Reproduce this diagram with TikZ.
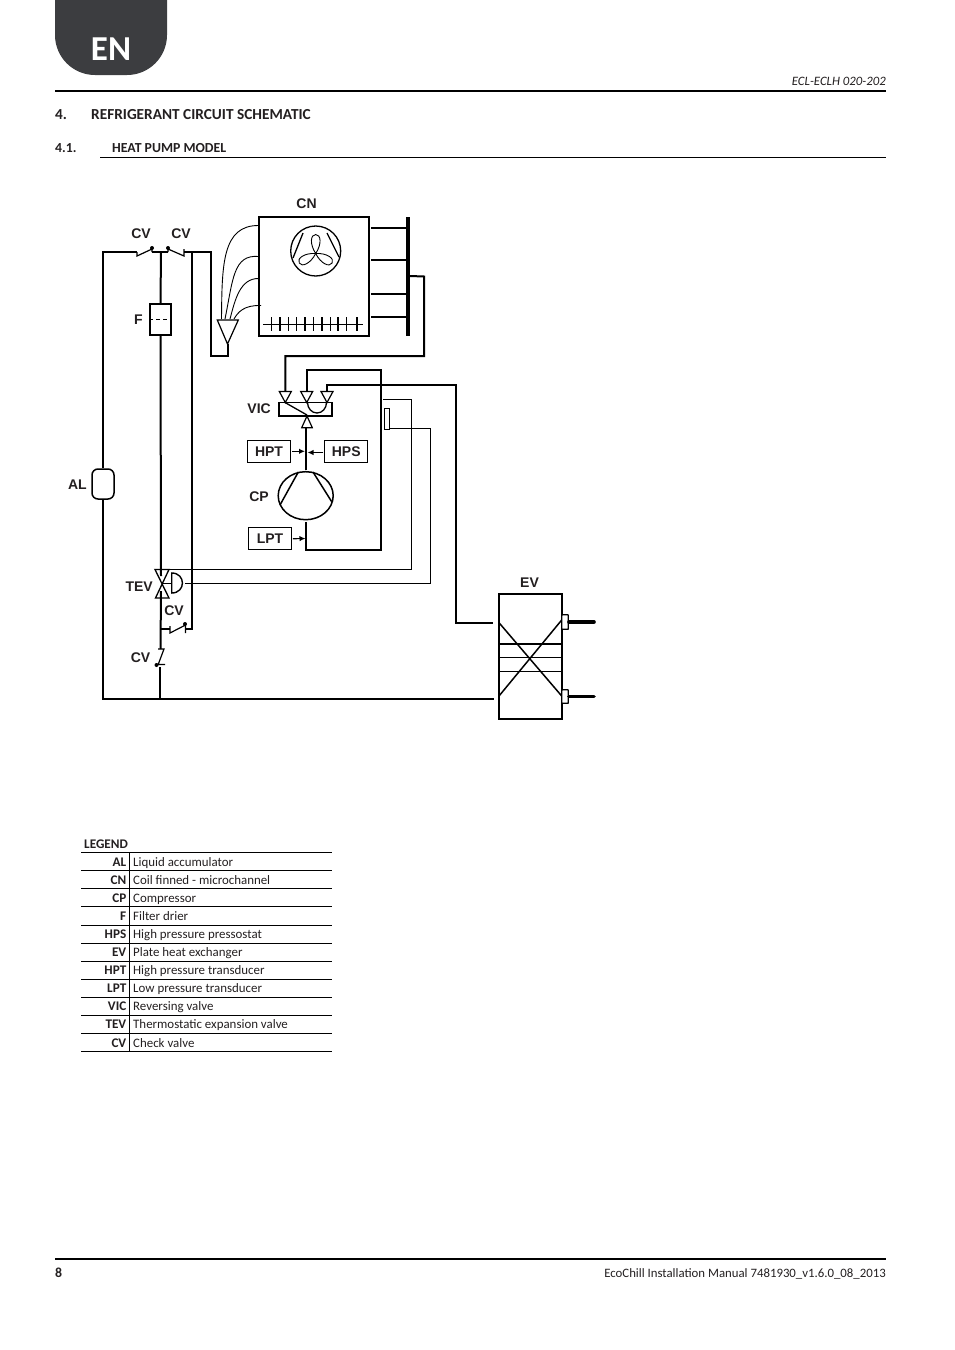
\documentclass[tikz,border=0pt]{standalone}
\usepackage{fontspec}
\setmainfont{Carlito}
\newfontfamily\labelfont{Liberation Sans}
\usetikzlibrary{shapes.geometric,arrows.meta}
\definecolor{tabgrey}{HTML}{3C3D40}
\definecolor{inkgrey}{HTML}{231F20}
\begin{document}
\begin{tikzpicture}[x=1pt,y=-1pt,
    pipe/.style={line width=2pt},
    thinpipe/.style={line width=1pt},
    tag/.style={font=\labelfont\bfseries\fontsize{14}{16}\selectfont,inner sep=0pt,text=inkgrey},
    sensor/.style={draw,line width=0.9pt,minimum width=43pt,minimum height=22pt,inner sep=0pt,font=\labelfont\bfseries\fontsize{14}{16}\selectfont,text=inkgrey},
    headline/.style={anchor=base west,inner sep=0pt,font=\bfseries\fontsize{15.3}{17}\selectfont,text=inkgrey},
    subline/.style={anchor=base west,inner sep=0pt,font=\bfseries\fontsize{13.8}{15}\selectfont,text=inkgrey},
    legendkey/.style={anchor=base east,inner sep=0pt,font=\bfseries\fontsize{13.2}{15}\selectfont,text=inkgrey},
    legendtext/.style={anchor=base west,inner sep=0pt,font=\fontsize{12.9}{15}\selectfont,text=inkgrey},
    rowline/.style={line width=0.7pt},
    senseto/.style={-{Latex[length=6pt,width=5.5pt]},line width=1.2pt}]
  \useasboundingbox (0,0) rectangle (954,1350);
  % page furniture
  \fill[tabgrey] (55,0) -- (55,35) arc[start angle=180,end angle=90,x radius=40,y radius=40] -- (127,75) arc[start angle=90,end angle=0,x radius=40,y radius=40] -- (167,0) -- cycle;
  \node[text=white,font=\bfseries\fontsize{35}{37}\selectfont,inner sep=0pt] (tabtext) at (111,49) {EN};
  \node[anchor=base east,inner sep=0pt,font=\itshape\fontsize{12.8}{14}\selectfont,text=inkgrey] (doccode) at (886,85.5) {ECL-ECLH 020-202};
  \draw[line width=1.5pt] (55,91) -- (886,91);
  \node[headline] (secnum) at (55,119) {4.};
  \node[headline] (sectitle) at (91,119) {REFRIGERANT CIRCUIT SCHEMATIC};
  \node[subline] (subnum) at (55,152) {4.1.};
  \node[subline] (subtitle) at (112,152) {HEAT PUMP MODEL};
  \draw[line width=0.9pt] (100,157.5) -- (886,157.5);
  \draw[line width=1.5pt] (55,1259) -- (886,1259);
  \node[subline] (pagenum) at (55,1277.5) {8};
  \node[anchor=base east,inner sep=0pt,font=\fontsize{12.8}{14}\selectfont,text=inkgrey] (manual) at (886,1277.5) {EcoChill Installation Manual 7481930\_v1.6.0\_08\_2013};
  % coil and fan
  \node[draw,line width=2pt,minimum width=110pt,minimum height=119pt,inner sep=0pt] (coil) at (314,276.5) {};
  \node[tag] (cnlabel) at (306.5,204) {CN};
  \draw[line width=1.3pt] (315.7,251) circle[radius=25];
  \foreach \a in {0,120,240}
    \draw[line width=0.9pt,rotate around={\a:(315.7,253.5)}] (315.7,253.5) .. controls (309.5,244) and (310.5,234.5) .. (315.7,234.5) .. controls (321,234.5) and (322,244) .. (315.7,253.5);
  \draw[line width=1.3pt] (303,233) -- (293,258) (327,233) -- (339,257);
  \draw[line width=0.9pt] (263,324) -- (363,324);
  \foreach \x/\w in {271.7/0.9,280/1.8,288/0.9,296.7/0.9,305/1.8,313/0.9,321.7/1.8,330/0.9,338/1.8,346.7/0.9,356.7/1.8}
    \draw[line width=\w pt] (\x,317) -- (\x,331);
  \coordinate (bartop) at (408,217);
  \coordinate (barend) at (408,336);
  \draw[line width=3.6pt] (bartop) -- (barend);
  \foreach \y in {228,260,294,317}
    \draw[pipe] (371,\y) -- (408,\y);
  % distributor
  \coordinate (distA) at (217.3,320);
  \coordinate (distB) at (238.3,320);
  \coordinate (distC) at (227.5,344);
  \draw[line width=1.2pt] (distA) -- (distB) -- (distC) -- cycle;
  \draw[line width=0.9pt] (221.5,319) .. controls (222,265) and (222,225) .. (259,225.5);
  \draw[line width=0.9pt] (225,319) .. controls (233,280) and (233,254) .. (259,256.5);
  \draw[line width=0.9pt] (230,319) .. controls (235,300) and (240,278) .. (259,278.5);
  \draw[line width=0.9pt] (234,319) .. controls (238,312) and (244,305) .. (261,305.5);
  % liquid side
  \coordinate (topL) at (103,252);
  \coordinate (botL) at (103,698.5);
  \coordinate (botR) at (494,698.5);
  \coordinate (cvA) at (137,252);
  \coordinate (cvB) at (184,252);
  \coordinate (teeR) at (211,252);
  \coordinate (teeD) at (191.7,252);
  \coordinate (distfoot) at (211,356);
  \node[draw,line width=1.5pt,rounded corners=6pt,fill=white,minimum width=22pt,minimum height=30pt,inner sep=0pt] (accum) at (103,484) {};
  \node[tag,anchor=east] (allabel) at (87,485) {AL};
  \draw[pipe] (cvA) -- (topL) -- (accum.north);
  \draw[pipe] (accum.south) -- (botL) -- (botR);
  % check valves on top
  \node[tag] (cvtagA) at (141,234) {CV};
  \node[tag] (cvtagB) at (181,234) {CV};
  \draw[line width=1.2pt] (137,252) -- (137,256) -- (152,249) -- (152,252);
  \draw[line width=1.2pt] (168,252) -- (168,249) -- (184,256) -- (184,249);
  \draw[pipe] (152,252) -- (168,252);
  \fill (152,248) circle[radius=2] (168,248) circle[radius=2];
  \draw[pipe] (cvB) -- (teeR) -- (distfoot) -- (distfoot -| distC) -- (distC);
  % filter
  \node[draw,line width=1.8pt,fill=white,minimum width=21pt,minimum height=31pt,inner sep=0pt] (filter) at (160.5,319.5) {};
  \node[tag,anchor=east] (flabel) at (143,320) {F};
  \draw[line width=1.4pt,dash pattern=on 4pt off 3pt] (filter.west) -- (filter.east);
  \draw[pipe] (161,252) -- (filter.north);
  % expansion valve
  \coordinate (tevM) at (162,583.5);
  \draw[pipe] (filter.south) -- (161,576);
  \draw[line width=1.3pt] (155,569.5) -- (169,569.5) -- (155.5,598) -- (169,598) -- cycle;
  \draw[line width=1.1pt] (tevM) -- (171.7,583.5);
  \draw[line width=1.4pt] (171.7,573) .. controls (186,573) and (186,593) .. (171.7,593) -- cycle;
  \node[tag,anchor=east] (tevlabel) at (153,587) {TEV};
  % lower check valves
  \node[tag] (cvtagC) at (174,611) {CV};
  \node[tag,anchor=east] (cvtagD) at (150.5,658) {CV};
  \coordinate (cvCin) at (170,629);
  \coordinate (cvCout) at (185.7,629);
  \coordinate (cvDin) at (160.5,649);
  \coordinate (cvDout) at (160.5,665);
  \draw[pipe] (161,591) -- (cvDin);
  \draw[pipe] (161,629) -- (cvCin);
  \draw[line width=1.2pt] (170,626) -- (170,633) -- (185.5,625) -- (185.5,633);
  \fill (185,624) circle[radius=2];
  \draw[pipe] (cvCout) -- (191.7,629) -- (teeD);
  \draw[line width=1.2pt] (158,649) -- (164,649) -- (158,665) (155.5,664.5) -- (165,664.5);
  \fill (156.5,665) circle[radius=2];
  \draw[pipe] (160,667) -- (160,698.5);
  % reversing valve
  \node[draw,line width=1.3pt,minimum width=53pt,minimum height=13pt,inner sep=0pt] (vic) at (305.5,409.2) {};
  \draw[line width=2pt] (vic.south west) -- (vic.south east);
  \node[tag,anchor=east] (viclabel) at (271,409) {VIC};
  \draw[line width=1.3pt] (285,402.5) -- (307,415);
  \draw[line width=1.3pt] (307.5,402.5) arc[start angle=180,end angle=0,x radius=9.5,y radius=10.5];
  \foreach \n/\x in {vicA/285.3,vicB/306.7,vicC/327}
    { \draw[line width=1.2pt,fill=white] (\x-6,391.5) -- (\x+6,391.5) -- (\x,402.5) -- cycle;
      \coordinate (\n) at (\x,391.5); }
  \draw[line width=1.2pt,fill=white] (301.7,427.7) -- (312.3,427.7) -- (307,416) -- cycle;
  % compressor
  \node[draw,ellipse,line width=1.5pt,minimum width=55pt,minimum height=48pt,inner sep=0pt] (comp) at (305.7,495.7) {};
  \node[tag,anchor=east] (cplabel) at (269,497) {CP};
  \draw[line width=1.5pt] (298.3,472) -- (280,505) (313,472) -- (331.7,501.7);
  \node[sensor] (hpt) at (269,451.3) {HPT};
  \node[sensor] (hps) at (346.2,451.3) {HPS};
  \node[sensor] (lpt) at (270,538.7) {LPT};
  \coordinate (dis) at (306,428);
  \draw[pipe] (dis) -- (306,470);
  \draw[senseto] (hpt.east) ++(1.5,0) -- (305,451.3);
  \draw[senseto] (hps.west) ++(-1,1.2) -- (307.5,452.5);
  \draw[senseto] (lpt.east) ++(1,0) -- (305.5,538.5);
  % pipes round the valve
  \coordinate (sucA) at (380.7,370.3);
  \coordinate (sucB) at (380.7,550);
  \coordinate (sucC) at (306,550);
  \draw[pipe] (vicB) -- (306.7,370.3) -- (sucA) -- (sucB) -- (sucC) -- (306,521.7);
  \coordinate (hotA) at (424,276.5);
  \coordinate (hotB) at (424,356);
  \draw[pipe] (410,276) -- (hotA) -- (hotB) -- (285.3,356) -- (vicA);
  \coordinate (gasA) at (455.5,384.7);
  \coordinate (gasB) at (455.5,622.5);
  \coordinate (gasC) at (493,622.5);
  \draw[pipe] (vicC) -- (327,384.7) -- (gasA) -- (gasB) -- (gasC);
  % capillaries
  \node[draw,line width=0.9pt,minimum width=5pt,minimum height=21pt,inner sep=0pt] (bulb) at (386.5,418.5) {};
  \coordinate (capA) at (383,399.5);
  \coordinate (capB) at (411.7,399.5);
  \coordinate (capC) at (411.7,569.5);
  \draw[thinpipe] (capA) -- (capB) -- (capC) -- (169,569.5);
  \coordinate (capD) at (430,428);
  \coordinate (capE) at (430,583.5);
  \draw[thinpipe] (389,428) -- (capD) -- (capE) -- (185,583.5);
  % plate heat exchanger
  \node[draw,line width=2pt,minimum width=62.7pt,minimum height=124.7pt,inner sep=0pt] (evap) at (530.4,656.4) {};
  \node[tag] (evlabel) at (529.5,583) {EV};
  \draw[line width=1.5pt] (499,622.7) -- (561.7,696) (499,696) -- (561.7,620);
  \foreach \y in {644,657.7,671.7}
    \draw[line width=1.5pt] (499,\y) -- (561.7,\y);
  \node[draw,line width=1.4pt,fill=white,rounded corners=0.5pt,minimum width=6.5pt,minimum height=14.5pt,inner sep=0pt] (portA) at (565,622) {};
  \node[draw,line width=1.4pt,fill=white,rounded corners=0.5pt,minimum width=6.5pt,minimum height=13.5pt,inner sep=0pt] (portB) at (565,696.5) {};
  \coordinate (portAend) at (594,622);
  \coordinate (portBend) at (594,696.5);
  \draw[line width=3.6pt,line cap=round] (portA.east) -- (portAend);
  \draw[line width=3.6pt,line cap=round] (portB.east) -- (portBend);
  % legend
  \node[legendkey,anchor=base west] (legendhead) at (84,848) {LEGEND};
  \draw[rowline] (81,852.5) -- (332,852.5);
  \foreach \k/\t [count=\i from 0] in {AL/Liquid accumulator,CN/Coil finned - microchannel,CP/Compressor,F/Filter drier,HPS/High pressure pressostat,EV/Plate heat exchanger,HPT/High pressure transducer,LPT/Low pressure transducer,VIC/Reversing valve,TEV/Thermostatic expansion valve,CV/Check valve}
  {
    \node[legendkey] (key\i) at (126.5,866+18.1*\i) {\k};
    \node[legendtext] (txt\i) at (133,866+18.1*\i) {\t};
    \draw[rowline] (81,870.6+18.1*\i) -- (332,870.6+18.1*\i);
  }
  \draw[rowline] (129.5,852.5) -- (129.5,1051.6);
\end{tikzpicture}
\end{document}
